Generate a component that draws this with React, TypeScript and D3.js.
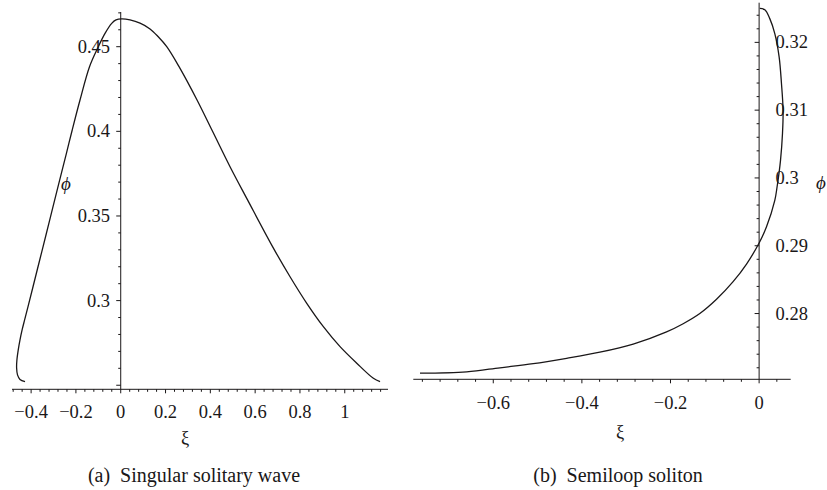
import React from "react";
import * as d3 from "d3";

// ---- Data ----
// Panel (a): singular solitary wave, parametric curve (xi, phi)
const waveXi = [
  -0.4272, -0.4496, -0.4607, -0.4647, -0.4634, -0.4576, -0.4496, -0.4402, -0.429, -0.4138,
  -0.3915, -0.3616, -0.3317, -0.3022, -0.2723, -0.2424, -0.2165, -0.1817, -0.1393, -0.1,
  -0.0701, -0.0402, -0.021, 0.0045, 0.0415, 0.0862, 0.1308, 0.1665, 0.2054, 0.2603,
  0.3406, 0.4098, 0.4879, 0.5661, 0.6777, 0.7558, 0.8304, 0.9045, 0.979, 1.0536,
  1.1277, 1.1576,
];
const wavePhi = [
  0.2521, 0.2534, 0.2561, 0.2602, 0.2649, 0.2708, 0.2768, 0.2827, 0.2886, 0.2964,
  0.3082, 0.324, 0.3398, 0.3555, 0.3713, 0.387, 0.4008, 0.4185, 0.4382, 0.45,
  0.4579, 0.4638, 0.4658, 0.4664, 0.4658, 0.4639, 0.4605, 0.456, 0.45, 0.4382,
  0.4185, 0.4, 0.3791, 0.3595, 0.3319, 0.3141, 0.2984, 0.2846, 0.2728, 0.263,
  0.2541, 0.2521,
];
// Panel (b): semiloop soliton
const loopXi = [
  -0.7654, -0.6601, -0.5849, -0.5098, -0.4345, -0.3594, -0.2842, -0.2089, -0.1714, -0.1338,
  -0.0961, -0.0587, -0.0284, 0.0, 0.0167, 0.0354, 0.0406, 0.0483, 0.0528, 0.0541,
  0.0505, 0.0451, 0.0354, 0.0241, 0.0129, 0.0016,
];
const loopPhi = [
  0.2712, 0.2714, 0.272, 0.2726, 0.2734, 0.2743, 0.2755, 0.2773, 0.2785, 0.28,
  0.2821, 0.2847, 0.2873, 0.2904, 0.2928, 0.2967, 0.2987, 0.3026, 0.3066, 0.31,
  0.3139, 0.3179, 0.3213, 0.3235, 0.3248, 0.325,
];

// Tick labels
const aXTicks = [-0.4, -0.2, 0, 0.2, 0.4, 0.6, 0.8, 1];
const aXLabels = ["\u22120.4", "\u22120.2", "0", "0.2", "0.4", "0.6", "0.8", "1"];
const aYTicks = [0.3, 0.35, 0.4, 0.45];
const aYLabels = ["0.3", "0.35", "0.4", "0.45"];
const bXTicks = [-0.6, -0.4, -0.2, 0];
const bXLabels = ["\u22120.6", "\u22120.4", "\u22120.2", "0"];
const bYTicks = [0.28, 0.29, 0.3, 0.31, 0.32];
const bYLabels = ["0.28", "0.29", "0.3", "0.31", "0.32"];

const captionA = "(a)\u00a0\u00a0Singular solitary wave";
const captionB = "(b)\u00a0\u00a0Semiloop soliton";

const INK = "#1a1718";
const FONT = '"Liberation Serif", "DejaVu Serif", "Times New Roman", serif';

function range(a: number, b: number, step: number): number[] {
  const out: number[] = [];
  const n = Math.round((b - a) / step);
  for (let i = 0; i <= n; i++) out.push(+(a + i * step).toFixed(5));
  return out;
}

function isMajor(v: number, majors: number[]) {
  return majors.some((m) => Math.abs(m - v) < 1e-6);
}

export default function App() {
  // Panel A scales
  const xA = d3.scaleLinear().domain([-0.4853, 1.193]).range([12, 388]);
  const yA = d3.scaleLinear().domain([0.2476, 0.4705]).range([389.3, 12]);
  // Panel B scales
  const xB = d3.scaleLinear().domain([-0.7805, 0.0713]).range([413.3, 790.7]);
  const yB = d3.scaleLinear().domain([0.2703, 0.32585]).range([379.3, 2.7]);

  const lineA = d3
    .line<number>()
    .x((_, i) => xA(waveXi[i]))
    .y((_, i) => yA(wavePhi[i]))
    .curve(d3.curveCatmullRom.alpha(0.5));
  const lineB = d3
    .line<number>()
    .x((_, i) => xB(loopXi[i]))
    .y((_, i) => yB(loopPhi[i]))
    .curve(d3.curveCatmullRom.alpha(0.5));

  const aXMinor = range(-0.48, 1.16, 0.04);
  const aYMinor = range(0.25, 0.47, 0.01);
  const bXMinor = range(-0.76, 0.04, 0.04);
  const bYMinor = range(0.272, 0.324, 0.002);

  const aAxisY = yA.range()[0];
  const aAxisX = xA(0);
  const bAxisY = yB.range()[0];
  const bAxisX = xB(0);

  return (
    <svg
      width={827}
      height={490}
      style={{ position: "absolute", left: 0, top: 0, background: "#fff", fontFamily: FONT }}
    >
      {/* ---------- Panel A ---------- */}
      <g stroke={INK} strokeWidth={1} fill="none">
        <line x1={xA.range()[0]} x2={xA.range()[1]} y1={aAxisY} y2={aAxisY} />
        <line x1={aAxisX} x2={aAxisX} y1={yA.range()[1]} y2={yA.range()[0]} />
        {aXMinor.map((v) => (
          <line key={"ax" + v} x1={xA(v)} x2={xA(v)} y1={aAxisY} y2={aAxisY + (isMajor(v, aXTicks) ? 4 : 2.5)} />
        ))}
        {aYMinor.map((v) => (
          <line key={"ay" + v} x1={aAxisX} x2={aAxisX - (isMajor(v, [0.25, ...aYTicks]) ? 4.5 : 2.5)} y1={yA(v)} y2={yA(v)} />
        ))}
        <path d={lineA(waveXi) || ""} strokeWidth={1.3} />
      </g>
      <g fill={INK} fontSize={18.5}>
        {aXTicks.map((v, i) => (
          <text key={"axl" + v} x={xA(v)} y={417.5} textAnchor="middle">
            {aXLabels[i]}
          </text>
        ))}
        {aYTicks.map((v, i) => (
          <text key={"ayl" + v} x={110} y={yA(v) + 6} textAnchor="end">
            {aYLabels[i]}
          </text>
        ))}
        <text x={185} y={444} textAnchor="middle">ξ</text>
        <text x={66} y={190} textAnchor="middle" fontStyle="italic" fontSize={19}>ϕ</text>
      </g>

      {/* ---------- Panel B ---------- */}
      <g stroke={INK} strokeWidth={1} fill="none">
        <line x1={xB.range()[0]} x2={xB.range()[1]} y1={bAxisY} y2={bAxisY} />
        <line x1={bAxisX} x2={bAxisX} y1={yB.range()[1]} y2={yB.range()[0]} />
        {bXMinor.map((v) => (
          <line key={"bx" + v} x1={xB(v)} x2={xB(v)} y1={bAxisY} y2={bAxisY + (isMajor(v, bXTicks) ? 4 : 2.5)} />
        ))}
        {bYMinor.map((v) => (
          <line key={"by" + v} x1={bAxisX} x2={bAxisX - (isMajor(v, bYTicks) ? 4.5 : 2.5)} y1={yB(v)} y2={yB(v)} />
        ))}
        <path d={lineB(loopXi) || ""} strokeWidth={1.3} />
      </g>
      <g fill={INK} fontSize={18.5}>
        {bXTicks.map((v, i) => (
          <text key={"bxl" + v} x={xB(v)} y={408.5} textAnchor="middle">
            {bXLabels[i]}
          </text>
        ))}
        {bYTicks.map((v, i) => (
          <text key={"byl" + v} x={775.5} y={yB(v) + 6} textAnchor="start">
            {bYLabels[i]}
          </text>
        ))}
        <text x={620} y={438} textAnchor="middle">ξ</text>
        <text x={821} y={189} textAnchor="middle" fontStyle="italic" fontSize={19}>ϕ</text>
      </g>

      {/* ---------- Captions ---------- */}
      <g fill={INK} fontSize={20}>
        <text x={194} y={481.5} textAnchor="middle">{captionA}</text>
        <text x={618} y={481.5} textAnchor="middle">{captionB}</text>
      </g>
    </svg>
  );
}
